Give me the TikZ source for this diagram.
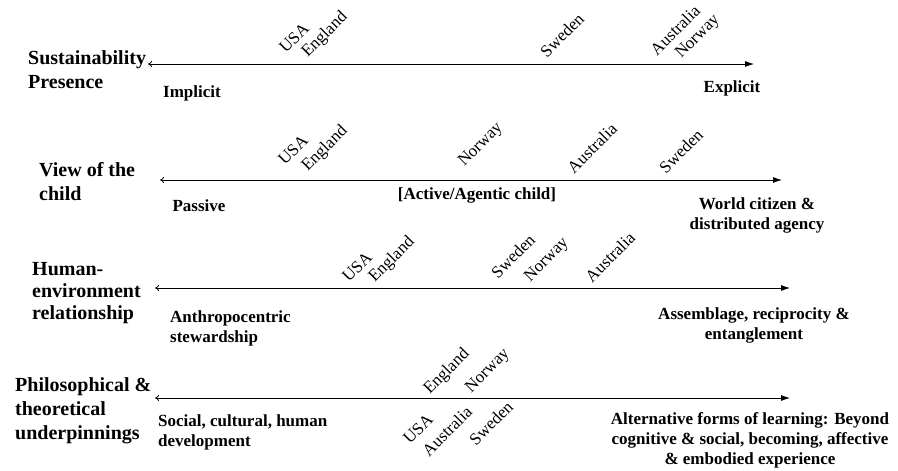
\documentclass[tikz,border=0pt]{standalone}
\usepackage{fontspec}
\setmainfont{Liberation Serif}
\usetikzlibrary{arrows.meta}

\begin{document}
\begin{tikzpicture}[x=1pt,y=-1pt,
	rowtitle/.style={anchor=west,align=left,inner sep=0pt,font=\fontsize{20}{24}\selectfont\bfseries},
	endlabel/.style={align=center,inner sep=0pt,font=\fontsize{17}{20}\selectfont\bfseries},
	country/.style={rotate=45,inner sep=0pt,font=\fontsize{17}{17}\selectfont},
	axis/.style={{To[length=4pt,width=6pt]}-{Latex[length=9pt,width=6pt]},line width=0.8pt}]
	\useasboundingbox (0,0) rectangle (898,471);

	% Sustainability presence
	\node[rowtitle] (sus) at (28,70) {Sustainability\\Presence};
	\coordinate (susL) at (148,64);
	\coordinate (susR) at (754,64);
	\draw[axis] (susL) -- (susR);
	\node[endlabel] (implicit) at (192,93) {Implicit};
	\node[endlabel] (explicit) at (732,88) {Explicit};
	\node[country] (susUSA) at (294,38) {USA};
	\node[country] (susEng) at (325,35) {England};
	\node[country] (susSwe) at (562,35) {Sweden};
	\node[country] (susAus) at (675,30) {Australia};
	\node[country] (susNor) at (698,37) {Norway};

	% View of the child
	\node[rowtitle] (view) at (39,182) {View of the\\child};
	\coordinate (viewL) at (160,180);
	\coordinate (viewR) at (782,180);
	\draw[axis] (viewL) -- (viewR);
	\node[endlabel] (passive) at (199,206) {Passive};
	\node[endlabel] (active) at (477,195) {[Active/Agentic child]};
	\node[endlabel] (world) at (757,215) {World citizen \&\\distributed agency};
	\node[country] (viewUSA) at (293,150) {USA};
	\node[country] (viewEng) at (325,149) {England};
	\node[country] (viewNor) at (481,145) {Norway};
	\node[country] (viewAus) at (592,148) {Australia};
	\node[country] (viewSwe) at (681,151) {Sweden};

	% Human-environment relationship
	\node[rowtitle,font=\fontsize{20}{22}\selectfont\bfseries] (human) at (32,293) {Human-\\environment\\relationship};
	\coordinate (humL) at (155,288);
	\coordinate (humR) at (790,288);
	\draw[axis] (humL) -- (humR);
	\node[endlabel,anchor=west,align=left] (anthro) at (170,328) {Anthropocentric\\stewardship};
	\node[endlabel] (assemb) at (754,325) {Assemblage, reciprocity \&\\entanglement};
	\node[country] (humUSA) at (357,267) {USA};
	\node[country] (humEng) at (392,260) {England};
	\node[country] (humSwe) at (513,256) {Sweden};
	\node[country] (humNor) at (547,260) {Norway};
	\node[country] (humAus) at (610,257) {Australia};

	% Philosophical and theoretical underpinnings
	\node[rowtitle] (phil) at (15,411) {Philosophical \&\\theoretical\\underpinnings};
	\coordinate (philL) at (155,398);
	\coordinate (philR) at (790,398);
	\draw[axis] (philL) -- (philR);
	\node[endlabel,anchor=west,align=left] (social) at (158,432) {Social, cultural, human\\development};
	\node[endlabel] (altern) at (750,440) {Alternative forms of learning: Beyond\\cognitive \& social, becoming, affective\\\& embodied experience};
	\node[country] (philEng) at (447,372) {England};
	\node[country] (philNor) at (488,371) {Norway};
	\node[country] (philUSA) at (418,429) {USA};
	\node[country] (philAus) at (447,431) {Australia};
	\node[country] (philSwe) at (491,423) {Sweden};
\end{tikzpicture}
\end{document}
